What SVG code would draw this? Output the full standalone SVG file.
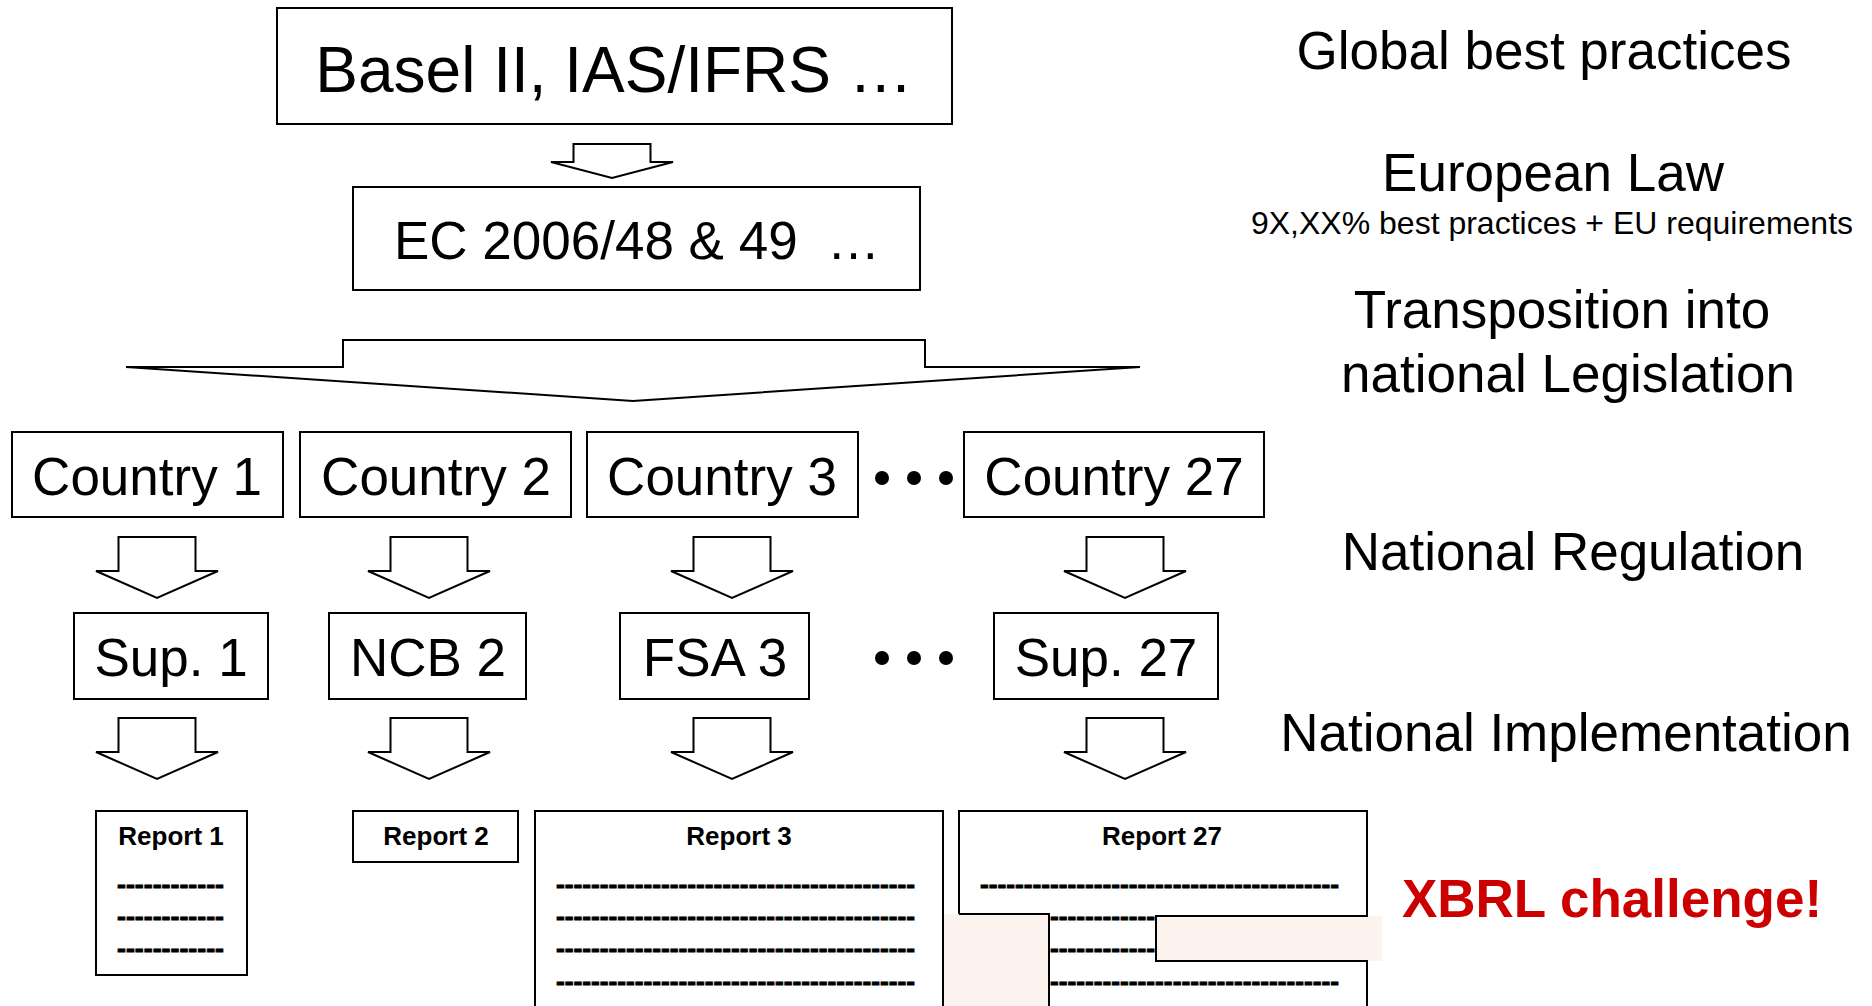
<svg xmlns="http://www.w3.org/2000/svg" xmlns:xlink="http://www.w3.org/1999/xlink" width="1872" height="1006" viewBox="0 0 1872 1006">
<style>
  .box { fill: #ffffff; stroke: #000000; stroke-width: 2; }
  .arrow { fill: #ffffff; stroke: #000000; stroke-width: 2; stroke-linejoin: miter; }
  .t { font-family: "Liberation Sans", Arial, sans-serif; fill: #000000; text-anchor: middle; }
  .big { font-size: 64px; }
  .mid { font-size: 53px; }
  .lab { font-size: 53px; }
  .small { font-size: 32px; }
  .rep { font-family: "Liberation Sans", Arial, sans-serif; font-size: 26px; font-weight: bold; fill: #000000; text-anchor: middle; }
  .dash { font-family: "Liberation Sans", Arial, sans-serif; font-size: 26px; font-weight: bold; fill: #000000; stroke: #000000; stroke-width: 0.9; }
  .red { font-family: "Liberation Sans", Arial, sans-serif; font-size: 53px; font-weight: bold; fill: #cc0000; text-anchor: middle; }
  .pink { fill: #fdf3ee; stroke: none; }
  .edge { fill: none; stroke: #000000; stroke-width: 2; }
  .dot { fill: #000000; }
</style>
<defs>
  <path id="smallArrow" d="M-38.5,0 H38.5 V34 H61 L0,61 L-61,34 H-38.5 Z"/>
</defs>
<rect x="0" y="0" width="1872" height="1006" fill="#ffffff"/>

<g id="connectors">
  <path class="arrow" d="M573.5,144 H650.5 V162 H673 L612,178 L551,162 H573.5 Z"/>
  <path class="arrow" d="M343,340 H925 V367 H1140 L633,401 L126,367 H343 Z"/>
  <use xlink:href="#smallArrow" class="arrow" x="157" y="537"/>
  <use xlink:href="#smallArrow" class="arrow" x="429" y="537"/>
  <use xlink:href="#smallArrow" class="arrow" x="732" y="537"/>
  <use xlink:href="#smallArrow" class="arrow" x="1125" y="537"/>
  <use xlink:href="#smallArrow" class="arrow" x="157" y="718"/>
  <use xlink:href="#smallArrow" class="arrow" x="429" y="718"/>
  <use xlink:href="#smallArrow" class="arrow" x="732" y="718"/>
  <use xlink:href="#smallArrow" class="arrow" x="1125" y="718"/>
</g>

<g id="basel">
  <rect class="box" x="277" y="8" width="675" height="116"/>
  <text class="t big" x="614" y="92">Basel II, IAS/IFRS …</text>
</g>
<g id="ec">
  <rect class="box" x="353" y="187" width="567" height="103"/>
  <text class="t mid" x="637" y="259" xml:space="preserve">EC 2006/48 &amp; 49  …</text>
</g>

<g id="country1">
  <rect class="box" x="12" y="432" width="271" height="85"/>
  <text class="t mid" x="147" y="495">Country 1</text>
</g>
<g id="country2">
  <rect class="box" x="300" y="432" width="271" height="85"/>
  <text class="t mid" x="436" y="495">Country 2</text>
</g>
<g id="country3">
  <rect class="box" x="587" y="432" width="271" height="85"/>
  <text class="t mid" x="722" y="495">Country 3</text>
</g>
<g id="dots1">
  <circle class="dot" cx="882" cy="478" r="7"/>
  <circle class="dot" cx="914" cy="478" r="7"/>
  <circle class="dot" cx="946" cy="478" r="7"/>
</g>
<g id="country27">
  <rect class="box" x="964" y="432" width="300" height="85"/>
  <text class="t mid" x="1114" y="495">Country 27</text>
</g>

<g id="sup1">
  <rect class="box" x="74" y="613" width="194" height="86"/>
  <text class="t mid" x="171" y="676">Sup. 1</text>
</g>
<g id="ncb2">
  <rect class="box" x="329" y="613" width="197" height="86"/>
  <text class="t mid" x="428" y="676">NCB 2</text>
</g>
<g id="fsa3">
  <rect class="box" x="620" y="613" width="189" height="86"/>
  <text class="t mid" x="715" y="676">FSA 3</text>
</g>
<g id="dots2">
  <circle class="dot" cx="882" cy="658" r="7"/>
  <circle class="dot" cx="914" cy="658" r="7"/>
  <circle class="dot" cx="946" cy="658" r="7"/>
</g>
<g id="sup27">
  <rect class="box" x="994" y="613" width="224" height="86"/>
  <text class="t mid" x="1106" y="676">Sup. 27</text>
</g>

<g id="report1">
  <rect class="box" x="96" y="811" width="151" height="164"/>
  <text class="rep" x="171" y="845">Report 1</text>
  <text class="dash" x="117" y="893" textLength="107" lengthAdjust="spacingAndGlyphs">------------</text>
  <text class="dash" x="117" y="925" textLength="107" lengthAdjust="spacingAndGlyphs">------------</text>
  <text class="dash" x="117" y="957" textLength="107" lengthAdjust="spacingAndGlyphs">------------</text>
</g>
<g id="report2">
  <rect class="box" x="353" y="811" width="165" height="51"/>
  <text class="rep" x="436" y="845">Report 2</text>
</g>
<g id="report3">
  <rect class="box" x="535" y="811" width="408" height="205"/>
  <text class="rep" x="739" y="845">Report 3</text>
  <text class="dash" x="556" y="893" textLength="359" lengthAdjust="spacingAndGlyphs">-----------------------------------------</text>
  <text class="dash" x="556" y="925" textLength="359" lengthAdjust="spacingAndGlyphs">-----------------------------------------</text>
  <text class="dash" x="556" y="957" textLength="359" lengthAdjust="spacingAndGlyphs">-----------------------------------------</text>
  <text class="dash" x="556" y="990" textLength="359" lengthAdjust="spacingAndGlyphs">-----------------------------------------</text>
</g>
<g id="report27">
  <rect x="959" y="811" width="408" height="205" fill="#ffffff"/>
  <text class="rep" x="1162" y="845">Report 27</text>
  <text class="dash" x="980" y="893" textLength="359" lengthAdjust="spacingAndGlyphs">-----------------------------------------</text>
  <text class="dash" x="980" y="925" textLength="359" lengthAdjust="spacingAndGlyphs">-----------------------------------------</text>
  <text class="dash" x="980" y="957" textLength="359" lengthAdjust="spacingAndGlyphs">-----------------------------------------</text>
  <text class="dash" x="980" y="990" textLength="359" lengthAdjust="spacingAndGlyphs">-----------------------------------------</text>
  <rect class="pink" x="944" y="914" width="105" height="100"/>
  <rect class="pink" x="1156" y="916" width="226" height="45"/>
  <path class="edge" d="M959,914 V811 H1367 V916 H1156 V961 H1367 V1010"/>
  <path class="edge" d="M959,914 H1049 V1010"/>
</g>

<g id="labels">
  <text class="t lab" x="1544" y="69">Global best practices</text>
  <text class="t lab" x="1553" y="191">European Law</text>
  <text class="t small" x="1552" y="234">9X,XX% best practices + EU requirements</text>
  <text class="t lab" x="1562" y="328">Transposition into</text>
  <text class="t lab" x="1568" y="392">national Legislation</text>
  <text class="t lab" x="1573" y="570">National Regulation</text>
  <text class="t lab" x="1566" y="751">National Implementation</text>
  <text class="red" x="1612" y="917">XBRL challenge!</text>
</g>
</svg>
